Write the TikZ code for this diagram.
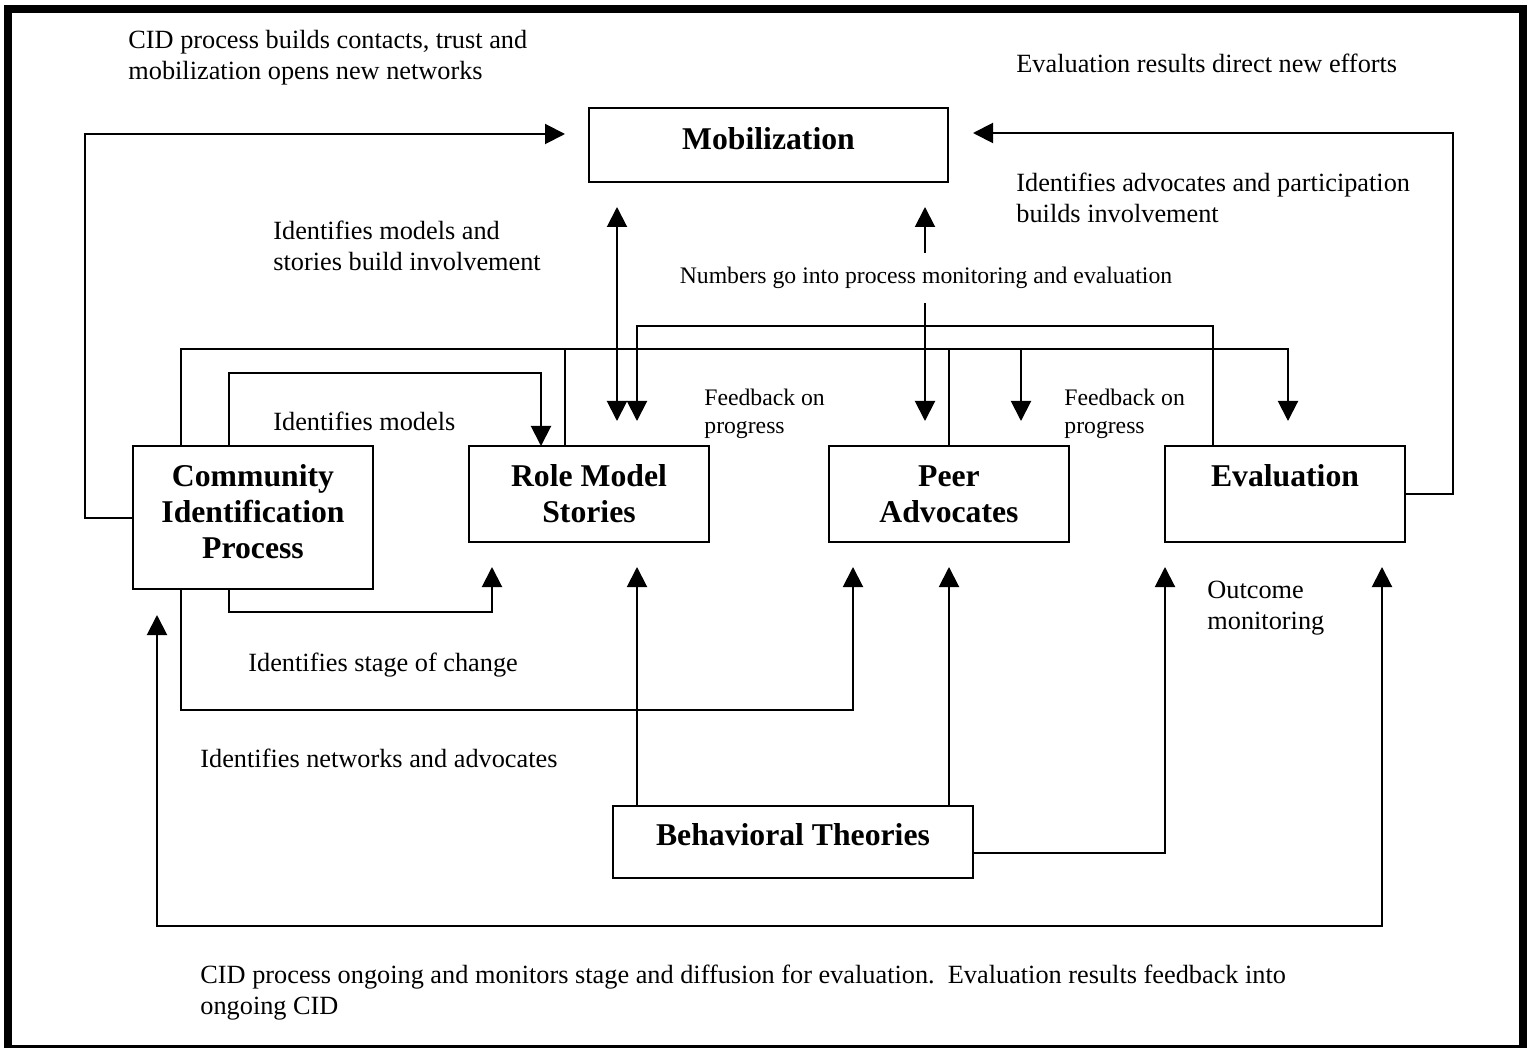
\documentclass[tikz,border=0pt]{standalone}
\usepackage{fontspec}
\setmainfont{Liberation Serif}
\usetikzlibrary{arrows.meta}
\tikzset{
  boxnode/.style={draw, line width=1pt, rectangle, inner sep=0pt, outer sep=0pt},
  boxtext/.style={font=\fontsize{15.85}{18}\selectfont\bfseries, align=center, inner sep=0pt},
  lbl/.style={font=\fontsize{13.15}{15.5}\selectfont, align=left, inner sep=0pt, anchor=north west},
  smalllbl/.style={font=\fontsize{11.85}{14}\selectfont, align=left, inner sep=0pt, anchor=north west},
  conn/.style={line width=1pt},
  arr/.style={conn, -{Triangle[length=10pt,width=10pt]}},
  darr/.style={conn, {Triangle[length=10pt,width=10pt]}-{Triangle[length=10pt,width=10pt]}}
}
\begin{document}
\begin{tikzpicture}[x=0.5pt,y=-0.5pt]
\useasboundingbox (0,0) rectangle (1533,1048);
\fill[white] (0,0) rectangle (1533,1048);
% outer frame
\draw[line width=4pt] (8,9) rectangle (1523,1049);

% boxes
\node[boxnode, minimum width=179.5pt, minimum height=37pt] (mob) at (768.5,145) {};
\node[boxnode, minimum width=120pt, minimum height=71.5pt] (cip) at (253,517.5) {};
\node[boxnode, minimum width=120pt, minimum height=48pt] (rms) at (589,494) {};
\node[boxnode, minimum width=120pt, minimum height=48pt] (pa) at (949,494) {};
\node[boxnode, minimum width=120pt, minimum height=48pt] (ev) at (1285,494) {};
\node[boxnode, minimum width=180pt, minimum height=36pt] (bt) at (793,842) {};

% box texts
\node[boxtext] (mobT) at (768.5,139) {Mobilization};
\node[boxtext] (cipT) at (253,512) {Community\\Identification\\Process};
\node[boxtext] (rmsT) at (589,494) {Role Model\\Stories};
\node[boxtext] (paT) at (949,494) {Peer\\Advocates};
\node[boxtext] (evT) at (1285,476) {Evaluation};
\node[boxtext] (btT) at (793,835) {Behavioral Theories};

% labels
\node[lbl] (l1) at (128,30) {CID process builds contacts, trust and\\mobilization opens new networks};
\node[lbl] (l2) at (1016,54) {Evaluation results direct new efforts};
\node[lbl] (l3) at (1016,173) {Identifies advocates and participation\\builds involvement};
\node[lbl] (l4) at (273,221) {Identifies models and\\stories build involvement};
\node[font=\fontsize{11.85}{14}\selectfont, inner sep=0pt] (num) at (926,278) {Numbers go into process monitoring and evaluation};
\node[smalllbl] (fb1) at (704,389) {Feedback on\\progress};
\node[smalllbl] (fb2) at (1064,389) {Feedback on\\progress};
\node[lbl] (l5) at (273,412) {Identifies models};
\node[lbl] (l6) at (1207,581) {Outcome\\monitoring};
\node[lbl] (l7) at (248,653) {Identifies stage of change};
\node[lbl] (l8) at (200,749) {Identifies networks and advocates};
\node[lbl] (l9) at (200,965) {CID process ongoing and monitors stage and diffusion for evaluation.\ \ Evaluation results feedback into\\ongoing CID};

% connectors
\draw[arr] (cip.west) -- ++(-48,0) |- ([shift={(-24,-11)}]mob.west);
\draw[arr] (ev.east) -- ++(48,0) |- ([shift={(25,-12)}]mob.east);
\draw[darr] ([shift={(-151.5,25)}]mob.south) -- ([shift={(28,-25)}]rms.north);
\draw[arr] ([shift={(-1,-14)}]num.north) -- ([shift={(156.5,25)}]mob.south);
\draw[arr] ([shift={(-1,14)}]num.south) -- ([shift={(-24,-25)}]pa.north);
\draw[arr] ([shift={(-72,0)}]ev.north) -- ++(0,-120) -| ([shift={(48,-25)}]rms.north);
\draw[arr] ([shift={(-72,0)}]cip.north) -- ++(0,-97) -| ([shift={(3,-25)}]ev.north);
\draw[conn] ([shift={(-24,0)}]rms.north) -- ++(0,-97);
\draw[conn] (pa.north) -- ++(0,-97);
\draw[arr] ([shift={(72,-97)}]pa.north) -- ([shift={(72,-25)}]pa.north);
\draw[arr] ([shift={(-24,0)}]cip.north) -- ++(0,-73) -| ([shift={(-48,0)}]rms.north);
\draw[arr] ([shift={(-24,0)}]cip.south) -- ++(0,23) -| ([shift={(-97,25)}]rms.south);
\draw[arr] ([shift={(-72,0)}]cip.south) -- ++(0,121) -| ([shift={(-96,25)}]pa.south);
\draw[arr] ([shift={(-156,0)}]bt.north) -- ([shift={(48,25)}]rms.south);
\draw[arr] ([shift={(156,0)}]bt.north) -- ([shift={(0,25)}]pa.south);
\draw[arr] ([shift={(0,11)}]bt.east) -| ([shift={(0,25)}]ev.south west);
\draw[darr] ([shift={(-96,26)}]cip.south) -- ++(0,311) -| ([shift={(97,25)}]ev.south);
\end{tikzpicture}
\end{document}
